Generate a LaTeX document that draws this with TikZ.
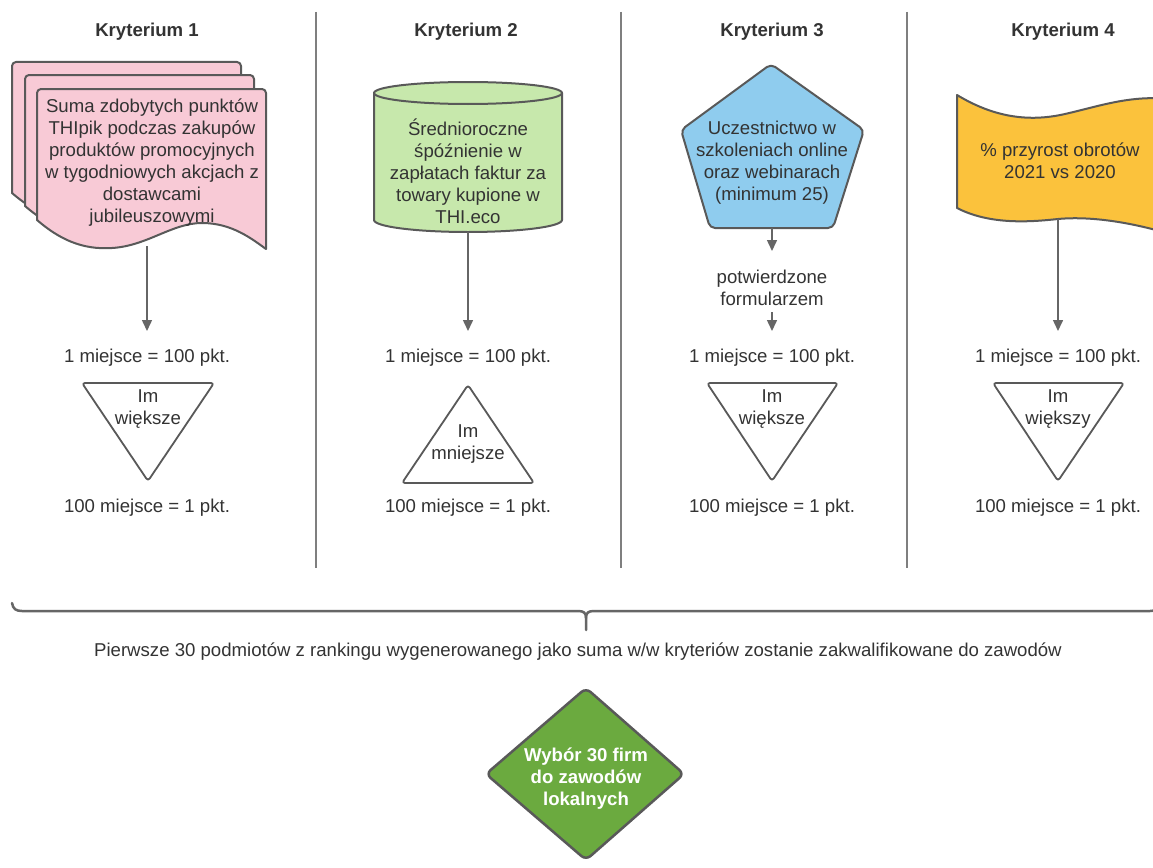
\documentclass[tikz,border=0pt]{standalone}
\usepackage{fontspec}
\setmainfont{Liberation Sans}
\usetikzlibrary{arrows.meta}
\definecolor{textc}{HTML}{333333}
\definecolor{edgec}{HTML}{595959}
\definecolor{arrc}{HTML}{666666}
\definecolor{sepc}{HTML}{7F7F7F}
\definecolor{pinkf}{HTML}{F8CAD6}
\definecolor{cylf}{HTML}{C7E8AC}
\definecolor{bluef}{HTML}{8FCCEE}
\definecolor{yelf}{HTML}{FBC23C}
\definecolor{diaf}{HTML}{6BAA3F}
\newcommand{\pagepath}{(0,131) [rounded corners=4pt] -- (0,0) -- (229,0) [sharp corners] -- (229,160)
  .. controls (215,150) and (195,134) .. (165,134)
  .. controls (135,134) and (110,157) .. (75,159)
  .. controls (45,161) and (22,150) .. (0,131) -- cycle}
\begin{document}
\begin{tikzpicture}[x=1pt,y=-1pt,
  txt/.style={text=textc, font=\fontsize{18.6}{22}\selectfont, align=center, inner sep=0pt},
  hdr/.style={text=textc, font=\fontsize{18.6}{22}\selectfont\bfseries, inner sep=0pt},
  shp/.style={draw=edgec, line width=2pt, line join=round},
  arr/.style={draw=arrc, line width=1.5pt, -{Triangle[length=11pt,width=10pt]}},
  sep/.style={draw=sepc, line width=1.5pt}]
\useasboundingbox (0,0) rectangle (1153,867);
\fill[white] (0,0) rectangle (1153,867);

% headers
\node[hdr] (h1) at (147,32) {Kryterium 1};
\node[hdr] (h2) at (466,32) {Kryterium 2};
\node[hdr] (h3) at (772,32) {Kryterium 3};
\node[hdr] (h4) at (1063,32) {Kryterium 4};

% separators
\coordinate (s1a) at (316,12); \coordinate (s1b) at (316,568);
\coordinate (s2a) at (621,12); \coordinate (s2b) at (621,568);
\coordinate (s3a) at (907,12); \coordinate (s3b) at (907,568);
\draw[sep] (s1a) -- (s1b);
\draw[sep] (s2a) -- (s2b);
\draw[sep] (s3a) -- (s3b);

% Kryterium 1: multi document
\begin{scope}[shift={(12,62)}]
  \draw[shp, fill=pinkf] \pagepath;
\end{scope}
\begin{scope}[shift={(25,75)}]
  \draw[shp, fill=pinkf] \pagepath;
\end{scope}
\begin{scope}[shift={(37,89)}]
  \draw[shp, fill=pinkf] \pagepath;
\end{scope}
\node[txt] (d1) at (152,163) {Suma zdobytych punktów\\THIpik podczas zakupów\\produktów promocyjnych\\w tygodniowych akcjach z\\dostawcami\\jubileuszowymi};
\coordinate (d1b) at (147,246);
\coordinate (a1e) at (147,331);
\draw[arr] (d1b) -- (a1e);

% Kryterium 2: cylinder
\draw[shp, fill=cylf] (374,93) -- (374,220) arc (180:0:94 and 12) -- (562,93) arc (0:-180:94 and 11) -- cycle;
\draw[shp] (374,93) arc (180:0:94 and 11);
\node[txt] (d2) at (468,171) {Średnioroczne\\śpóźnienie w\\zapłatach faktur za\\towary kupione w\\THI.eco};
\coordinate (d2b) at (468,232);
\coordinate (a2e) at (468,331);
\draw[arr] (d2b) -- (a2e);

% Kryterium 3: pentagon
\draw[shp, fill=bluef, rounded corners=5pt] (771,64) -- (864,130) -- (833,228) -- (710,228) -- (681,130) -- cycle;
\node[txt] (d3) at (772,163) {Uczestnictwo w\\szkoleniach online\\oraz webinarach\\(minimum 25)};
\coordinate (d3b) at (772,228);
\node[txt] (conf) at (772,288) {potwierdzone\\formularzem};
\coordinate (a3m) at (772,251);
\coordinate (a3s) at (772,312);
\coordinate (a3e) at (772,331);
\draw[arr] (d3b) -- (a3m);
\draw[arr] (a3s) -- (a3e);

% Kryterium 4: flag / tape
\draw[shp, fill=yelf] (957,95)
  .. controls (995,118) and (1030,122) .. (1065,114)
  .. controls (1100,106) and (1130,95) .. (1170,99)
  -- (1170,234)
  .. controls (1130,222) and (1090,216) .. (1058,219)
  .. controls (1030,222) and (990,225) .. (957,208) -- cycle;
\node[txt] (d4) at (1060,161) {\% przyrost obrotów\\2021 vs 2020};
\coordinate (d4b) at (1058,219);
\coordinate (a4e) at (1058,331);
\draw[arr] (d4b) -- (a4e);

% score labels
\foreach \x/\n in {147/1,468/2,772/3,1058/4}{
  \node[txt] (top\n) at (\x,358) {1 miejsce = 100 pkt.};
  \node[txt] (bot\n) at (\x,508) {100 miejsce = 1 pkt.};
}

% triangles
\draw[shp, line width=1.8pt, rounded corners=3pt] (82,383) -- (214,383) -- (148,481) -- cycle;
\node[txt] (t1) at (148,409) {Im\\większe};
\draw[shp, line width=1.8pt, rounded corners=3pt] (468,385) -- (534,483) -- (402,483) -- cycle;
\node[txt] (t2) at (468,444) {Im\\mniejsze};
\draw[shp, line width=1.8pt, rounded corners=3pt] (707,383) -- (838,383) -- (772,481) -- cycle;
\node[txt] (t3) at (772,409) {Im\\większe};
\draw[shp, line width=1.8pt, rounded corners=3pt] (993,383) -- (1124,383) -- (1058,481) -- cycle;
\node[txt] (t4) at (1058,409) {Im\\większy};

% brace
\draw[draw=arrc, line width=2.5pt, line cap=round, line join=round]
  (12,603) .. controls (13,609) and (16,611) .. (22,611) -- (578,611)
  .. controls (584,611) and (586,613) .. (586,618) -- (586,630);
\draw[draw=arrc, line width=2.5pt, line cap=round, line join=round]
  (586,618) .. controls (586,613) and (588,611) .. (594,611) -- (1150,611)
  .. controls (1156,611) and (1159,609) .. (1160,603);

\node[txt] (cap) at (578,652) {Pierwsze 30 podmiotów z rankingu wygenerowanego jako suma w/w kryteriów zostanie zakwalifikowane do zawodów};

% diamond
\draw[draw=edgec, line width=2.5pt, fill=diaf, rounded corners=6pt] (586,688) -- (684,774) -- (586,860) -- (486,774) -- cycle;
\node[txt, text=white, font=\fontsize{18.6}{22}\selectfont\bfseries] (win) at (586,779) {Wybór 30 firm\\do zawodów\\lokalnych};
\end{tikzpicture}
\end{document}
